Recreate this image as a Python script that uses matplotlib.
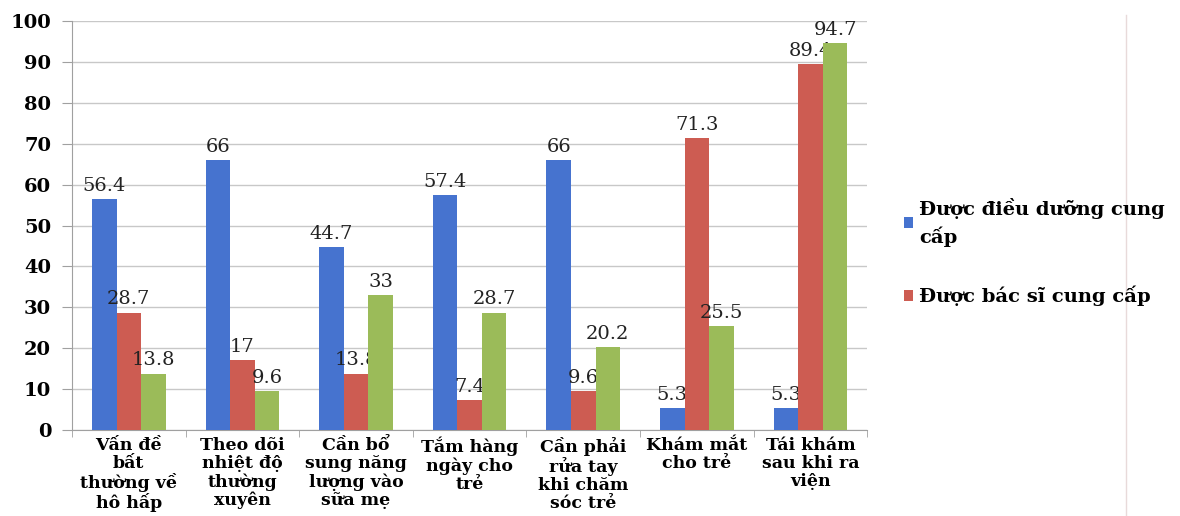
import matplotlib.pyplot as plt
import matplotlib.lines as mlines
import numpy as np

categories = ['Vấn đề\nbất\nthường về\nhô hấp', 'Theo dõi\nnhiệt độ\nthường\nxuyên',
              'Cần bổ\nsung năng\nlượng vào\nsữa mẹ', 'Tắm hàng\nngày cho\ntrẻ',
              'Cần phải\nrửa tay\nkhi chăm\nsóc trẻ', 'Khám mắt\ncho trẻ',
              'Tái khám\nsau khi ra\nviện']
dieu_duong = [56.4, 66, 44.7, 57.4, 66, 5.3, 5.3]
bac_si = [28.7, 17, 13.8, 7.4, 9.6, 71.3, 89.4]
khac = [13.8, 9.6, 33, 28.7, 20.2, 25.5, 94.7]
labels = ['Được điều dưỡng cung\ncấp', 'Được bác sĩ cung cấp']
colors = ['#4673cf', '#cd5c52', '#9bbb59']

plt.rcParams['font.family'] = ['DejaVu Serif']

fig = plt.figure(figsize=(11.8, 5.16), dpi=100)
ax = fig.add_axes([0.061, 0.1667, 0.674, 0.7923])

x = np.arange(len(categories))
w = 0.216
series = [(dieu_duong, labels[0]), (bac_si, labels[1]), (khac, None)]
for i, (vals, lab) in enumerate(series):
    bars = ax.bar(x + (i - 1) * w, vals, w, color=colors[i], label=lab, zorder=3)
    ax.bar_label(bars, labels=[f'{v:g}' for v in vals], padding=3,
                 fontsize=14, color='#222222')

ax.set_xlim(-0.5, len(categories) - 0.5)
ax.set_ylim(0, 100)
ax.set_yticks(range(0, 101, 10))
ax.yaxis.grid(True, color='#c8c8c8', linewidth=1, zorder=0)
for s in ['top', 'right']:
    ax.spines[s].set_visible(False)
for s in ['left', 'bottom']:
    ax.spines[s].set_color('#a0a0a0')

ax.set_xticks(x)
ax.set_xticklabels(categories, fontsize=12.5, fontweight='bold', linespacing=1.08)
ax.tick_params(axis='x', which='major', length=0, pad=5)
ax.set_xticks(np.arange(-0.5, len(categories), 1), minor=True)
ax.tick_params(axis='x', which='minor', length=5, color='#a0a0a0')
ax.tick_params(axis='y', length=7, color='#a0a0a0', pad=8, labelsize=14)
for t in ax.get_yticklabels():
    t.set_fontweight('bold')

leg = fig.legend(loc='upper left', bbox_to_anchor=(0.751, 0.65), frameon=False,
                 prop={'size': 14, 'weight': 'bold'}, handlelength=0.5,
                 handleheight=0.5, handletextpad=0.3, labelspacing=2.0)
for t in leg.get_texts():
    t.set_linespacing(1.45)

fig.add_artist(mlines.Line2D([0.954, 0.954], [0.0, 0.97], color='#e8dada', linewidth=1))

fig.savefig('out.png', dpi=100)
